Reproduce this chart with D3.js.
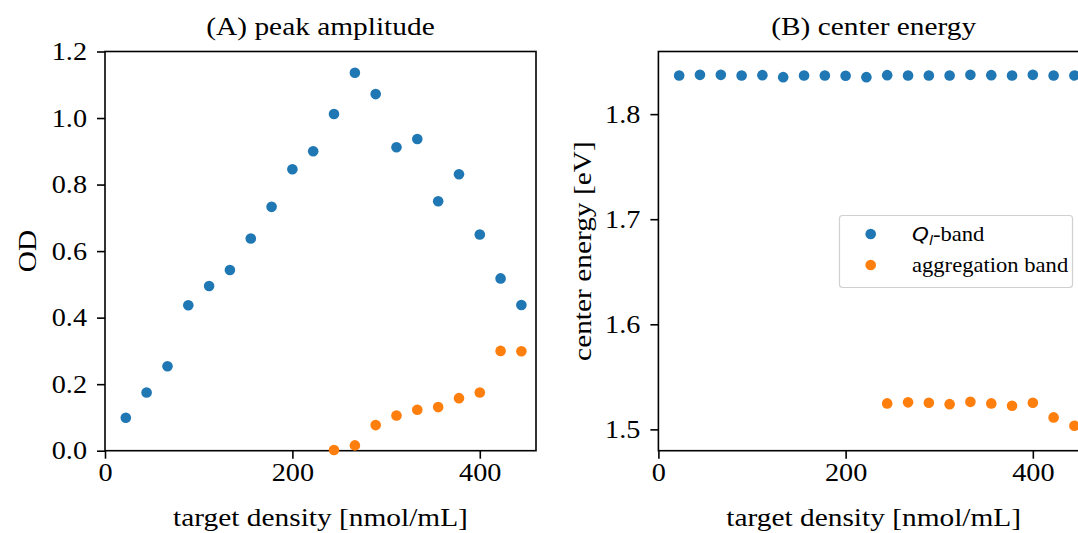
<!DOCTYPE html>
<html>
<head>
<meta charset="utf-8">
<script src="https://cdn.jsdelivr.net/npm/d3@7"></script>
<style>
  html, body { margin: 0; padding: 0; background: #fff; overflow: hidden; }
  svg { display: block; }
  text { font-family: "Liberation Serif", "Times New Roman", serif; fill: #000; }
</style>
</head>
<body>
<svg id="chart" width="1078" height="533"></svg>
<script>
// target densities [nmol/mL], shared by both panels
const density = [22.2, 44.4, 66.7, 88.9, 111.1, 133.3, 155.6, 177.8, 200.0, 222.2,
                 244.4, 266.7, 288.9, 311.1, 333.3, 355.6, 377.8, 400.0, 422.2, 444.4];

// (A) peak amplitude, OD
const qAmplitude = [0.099, 0.175, 0.254, 0.437, 0.495, 0.543, 0.638, 0.733, 0.846, 0.900,
                    1.012, 1.136, 1.072, 0.912, 0.937, 0.750, 0.831, 0.650, 0.518, 0.438];
const aggAmplitude = [null, null, null, null, null, null, null, null, null, null,
                      0.002, 0.016, 0.077, 0.106, 0.123, 0.131, 0.158, 0.175, 0.300, 0.299];

// (B) center energy, eV
const qEnergy = [1.8368, 1.8374, 1.8374, 1.8368, 1.8371, 1.8352, 1.8368, 1.8368, 1.8365, 1.8352,
                 1.8371, 1.8368, 1.8368, 1.8368, 1.8374, 1.8371, 1.8368, 1.8374, 1.8368, 1.8368];
const aggEnergy = [null, null, null, null, null, null, null, null, null, null,
                   1.5247, 1.5257, 1.5253, 1.5240, 1.5262, 1.5247, 1.5225, 1.5253, 1.5114, 1.5034];

const xTicks = [0, 200, 400];
const ampTicks = [0, 0.2, 0.4, 0.6, 0.8, 1.0, 1.2];
const energyTicks = [1.5, 1.6, 1.7, 1.8];
const seriesNames = ["Q_l-band", "aggregation band"];

const colors = ["#1f77b4", "#ff7f0e"];
const STRETCH = 1.13;   // text in the source is a little wider than the font

const svg = d3.select("#chart");

// widen a text node around its own anchor point
function stretch(sel, k) {
    sel.each(function() {
        const t = d3.select(this);
        const x = +t.attr("x") || 0, y = +t.attr("y") || 0;
        t.attr("x", 0).attr("y", 0)
         .attr("transform", `translate(${x},${y}) scale(${k},1)`);
    });
}

function drawPanel(opt) {
    const x = d3.scaleLinear().domain([0, 460]).range([opt.left, opt.right]);
    const y = d3.scaleLinear().domain(opt.yDomain).range([opt.bottom, opt.top]);
    const g = svg.append("g");

    // x axis
    const xa = g.append("g")
        .attr("transform", `translate(0,${opt.bottom})`)
        .call(d3.axisBottom(x).tickValues(xTicks).tickFormat(d3.format("d"))
              .tickSize(8).tickPadding(5));
    xa.selectAll("text").style("font-size", "25px");
    stretch(xa.selectAll("text"), STRETCH);

    // y axis
    const ya = g.append("g")
        .attr("transform", `translate(${opt.left},0)`)
        .call(d3.axisLeft(y).tickValues(opt.yTicks).tickFormat(opt.yFormat)
              .tickSize(8).tickPadding(10));
    ya.selectAll("text").style("font-size", "25px");
    stretch(ya.selectAll("text"), STRETCH);

    g.selectAll(".domain").remove();
    g.selectAll(".tick line").attr("stroke", "#000").attr("stroke-width", 1.6);
    g.selectAll(".tick text").attr("fill", "#000").attr("font-family", null);

    // frame
    g.append("rect")
        .attr("x", opt.left).attr("y", opt.top)
        .attr("width", opt.right - opt.left).attr("height", opt.bottom - opt.top)
        .attr("fill", "none").attr("stroke", "#000").attr("stroke-width", 1.6);

    // points
    opt.series.forEach((vals, i) => {
        g.append("g").selectAll("circle")
            .data(density.map((d, j) => [d, vals[j]]).filter(d => d[1] != null))
            .enter().append("circle")
            .attr("cx", d => x(d[0]))
            .attr("cy", d => y(d[1]))
            .attr("r", 5.3)
            .attr("fill", colors[i]);
    });

    const cx = (opt.left + opt.right) / 2;
    stretch(g.append("text")
        .attr("x", cx).attr("y", 35)
        .attr("text-anchor", "middle").style("font-size", "26px")
        .text(opt.title), STRETCH);

    stretch(g.append("text")
        .attr("x", cx).attr("y", 526)
        .attr("text-anchor", "middle").style("font-size", "26px")
        .text("target density [nmol/mL]"), STRETCH);

    g.append("text")
        .attr("transform", `translate(${opt.yLabelX},${(opt.top + opt.bottom) / 2}) rotate(-90) scale(${STRETCH},1)`)
        .attr("text-anchor", "middle").style("font-size", "26px")
        .text(opt.yLabel);

    return {x, y, g};
}

drawPanel({
    left: 105, right: 536, top: 51.5, bottom: 450.7,
    yDomain: [0, 1.2], yTicks: ampTicks, yFormat: d3.format(".1f"),
    series: [qAmplitude, aggAmplitude],
    title: "(A) peak amplitude", yLabel: "OD", yLabelX: 36
});

drawPanel({
    left: 658.4, right: 1089, top: 51.5, bottom: 450.7,
    yDomain: [1.4797, 1.8596], yTicks: energyTicks, yFormat: d3.format(".1f"),
    series: [qEnergy, aggEnergy],
    title: "(B) center energy", yLabel: "center energy [eV]", yLabelX: 591
});

// legend for panel B
const legend = svg.append("g");
legend.append("rect")
    .attr("x", 839.5).attr("y", 215.5).attr("width", 233).attr("height", 72)
    .attr("rx", 3).attr("fill", "#fff").attr("fill-opacity", 0.8)
    .attr("stroke", "#d0d0d0").attr("stroke-width", 1.2);

seriesNames.forEach((name, i) => {
    const ly = 234 + i * 31;
    legend.append("circle").attr("cx", 870.7).attr("cy", ly).attr("r", 5.3).attr("fill", colors[i]);
    const t = legend.append("text")
        .attr("transform", `translate(912,${ly + 6.5}) scale(${STRETCH},1)`)
        .style("font-size", "20px");
    if (name === "Q_l-band") {
        t.append("tspan").attr("font-family", "DejaVu Sans").attr("font-style", "italic")
            .style("font-size", "19px").text("Q");
        t.append("tspan").attr("font-family", "DejaVu Sans").attr("font-style", "italic")
            .attr("dy", 4).style("font-size", "13px").text("l");
        t.append("tspan").attr("dy", -4).text("-band");
    } else {
        t.text(name);
    }
});
</script>
</body>
</html>
